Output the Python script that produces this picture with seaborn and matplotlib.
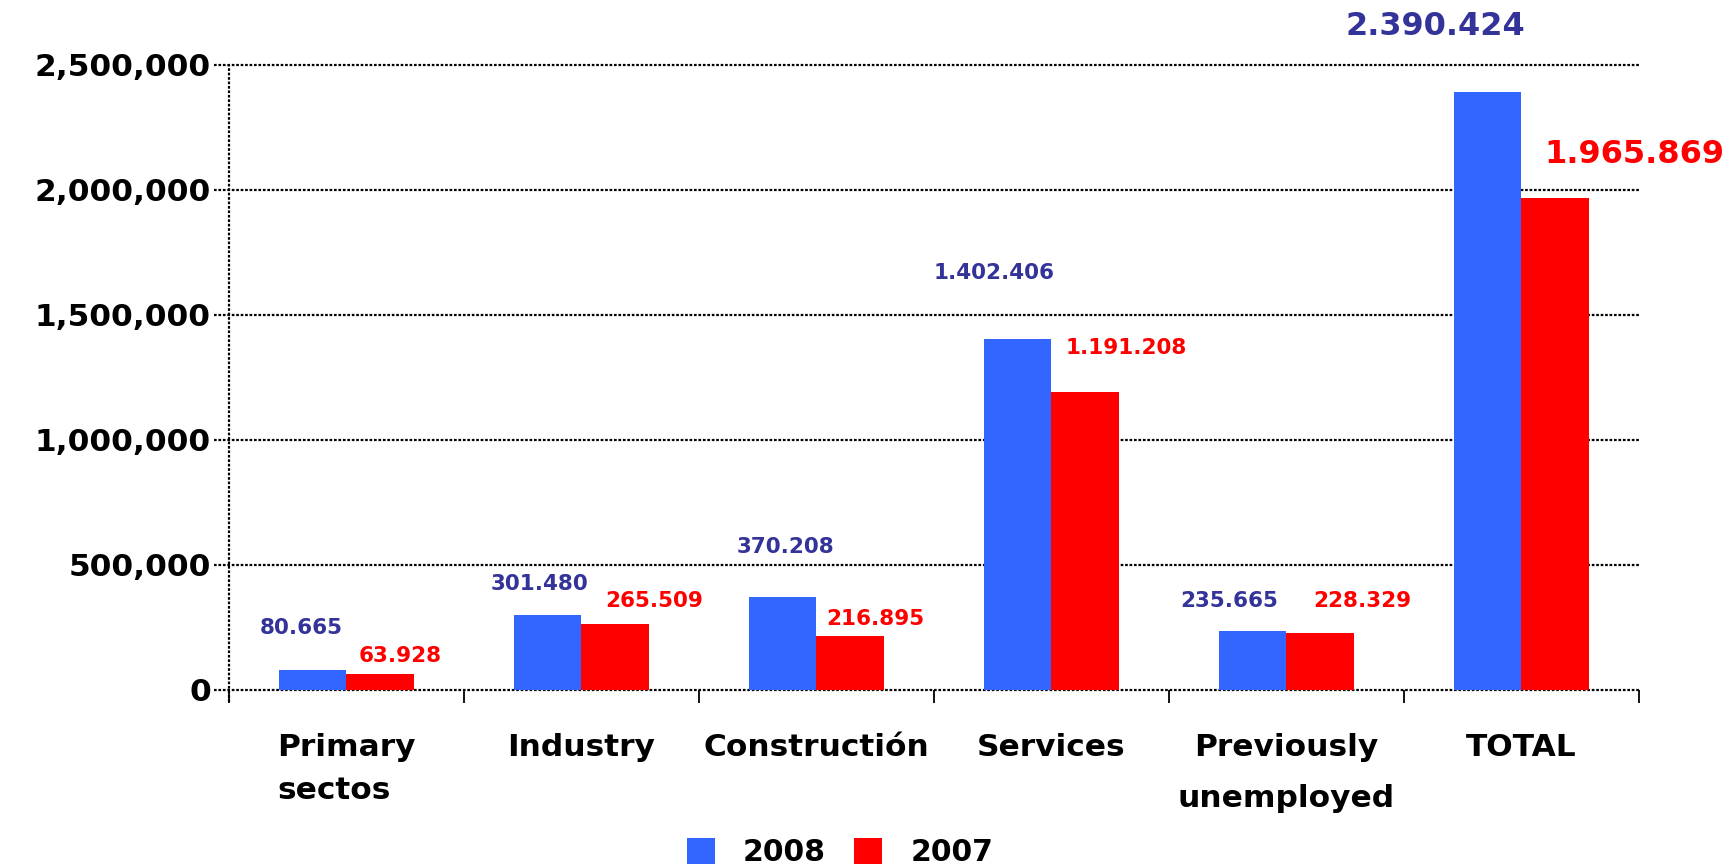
import matplotlib
matplotlib.use("Agg")
import matplotlib.pyplot as plt
from matplotlib.patches import Patch
import seaborn as sns
import pandas as pd

# Unemployment by sector, 2008 vs 2007
categories = ["Primary\nsectos", "Industry", "Constructión", "Services",
              "Previously\nunemployed", "TOTAL"]
values_2008 = [80665, 301480, 370208, 1402406, 235665, 2390424]
values_2007 = [63928, 265509, 216895, 1191208, 228329, 1965869]
years = ["2008", "2007"]
y_ticks = [0, 500000, 1000000, 1500000, 2000000, 2500000]

bar_colors = {"2008": "#3366FF", "2007": "#FF0000"}
label_colors = {"2008": "#333399", "2007": "#FF0000"}

# label offsets (points) from the top-centre of each bar
offsets_2008 = [(-8, 30), (-6, 22), (2, 36), (-17, 47.5), (-17, 21.5), (-38, 47.5)]
offsets_2007 = [(14, 13), (28, 16), (18, 12), (29.5, 32), (30, 23), (57, 32)]

df = pd.DataFrame({
    "sector": categories * 2,
    "year": [years[0]] * len(categories) + [years[1]] * len(categories),
    "value": values_2008 + values_2007,
})

sns.set_theme(style="white")
plt.rcParams["font.family"] = ["DejaVu Sans"]
plt.rcParams["font.weight"] = "bold"
plt.rcParams["text.color"] = "black"

fig = plt.figure(figsize=(17.36, 8.67), dpi=100)
ax = fig.add_axes([0.1319, 0.2042, 0.8122, 0.7209])

sns.barplot(data=df, x="sector", y="value", hue="year", hue_order=years,
            order=categories, palette=bar_colors, width=0.575,
            saturation=1, legend=False, ax=ax, linewidth=0)

ax.set_xlim(-0.5, len(categories) - 0.5)
ax.set_ylim(0, 2500000)
ax.set_xlabel("")
ax.set_ylabel("")

for s in ax.spines.values():
    s.set_visible(False)

dot = (0, (1.2, 0.8))
# dotted grid lines, running a little left of the value axis
for t in y_ticks:
    ax.plot([-0.0108, 1.0], [t, t], transform=ax.get_yaxis_transform(),
            color="black", lw=1.6, ls=dot, clip_on=False, zorder=0.5)
# dotted value axis
ax.plot([0, 0], [-0.02, 1.0], transform=ax.transAxes, color="black",
        lw=1.6, ls=dot, clip_on=False, zorder=3)

ax.set_yticks(y_ticks)
ax.set_yticklabels([f"{t:,}" for t in y_ticks])
ax.tick_params(axis="y", length=0, pad=13, labelsize=22.5, labelcolor="black")
for lab in ax.get_yticklabels():
    lab.set_fontweight("bold")

# category boundaries as short downward ticks
ax.set_xticks([i - 0.5 for i in range(len(categories) + 1)], minor=True)
ax.tick_params(axis="x", which="minor", length=9, width=1.3, color="black",
               direction="out", bottom=True)
ax.tick_params(axis="x", which="major", length=0, pad=31, labelsize=22.5,
               labelcolor="black")
for i, lab in enumerate(ax.get_xticklabels()):
    lab.set_fontweight("bold")
    lab.set_linespacing(1.95)
    if i == 0:
        lab.set_multialignment("left")
        lab.set_linespacing(1.6)

# value labels
for cont, yr, offs in zip(ax.containers, years, [offsets_2008, offsets_2007]):
    for bar, (dx, dy) in zip(cont, offs):
        v = bar.get_height()
        size = 23 if v > 1900000 else 15.5
        ax.annotate(f"{int(round(v)):,}".replace(",", "."),
                    xy=(bar.get_x() + bar.get_width() / 2, v),
                    xytext=(dx, dy), textcoords="offset points",
                    ha="center", va="center", color=label_colors[yr],
                    fontsize=size, fontweight="bold", annotation_clip=False)

handles = [Patch(facecolor=bar_colors[y], edgecolor="none") for y in years]
fig.legend(handles, years, loc="center", bbox_to_anchor=(0.484, 0.0165), ncol=2,
           frameon=False, prop=dict(weight="bold", size=21.5),
           handlelength=0.92, handleheight=0.95, handletextpad=0.95,
           columnspacing=0.95, borderpad=0, borderaxespad=0,
           labelcolor="black")

fig.savefig("out.png", dpi=100, facecolor="white")
